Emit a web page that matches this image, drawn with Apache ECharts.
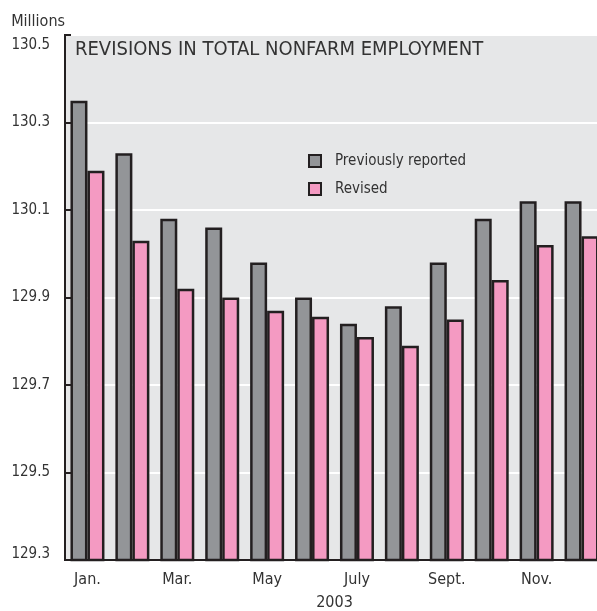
<!DOCTYPE html>
<html>
<head>
<meta charset="utf-8">
<script src="https://cdn.jsdelivr.net/npm/echarts@6/dist/echarts.min.js"></script>
<style>
  html, body { margin: 0; padding: 0; background: #fff; }
  #main { width: 597px; height: 611px; }
</style>
</head>
<body>
<div id="main"></div>
<script>
var months = ['Jan.', 'Feb.', 'Mar.', 'Apr.', 'May', 'June', 'July', 'Aug.', 'Sept.', 'Oct.', 'Nov.', 'Dec.'];
var previouslyReported = [130.35, 130.23, 130.08, 130.06, 129.98, 129.90, 129.84, 129.88, 129.98, 130.08, 130.12, 130.12];
var revised = [130.19, 130.03, 129.92, 129.90, 129.87, 129.856, 129.81, 129.79, 129.85, 129.94, 130.02, 130.04];

var font = "'Liberation Sans Narrow', 'Arial Narrow', 'DejaVu Sans Condensed', sans-serif";
var ink = '#231f20';
var textColor = '#333333';

var chart = echarts.init(document.getElementById('main'));

var option = {
    animation: false,
    title: {
        text: 'REVISIONS IN TOTAL NONFARM EMPLOYMENT',
        left: 70,
        top: 35,
        textStyle: {
            fontFamily: font,
            fontSize: 20,
            fontWeight: 'normal',
            color: textColor
        }
    },
    legend: {
        orient: 'vertical',
        left: 303,
        top: 148,
        itemWidth: 12,
        itemHeight: 12,
        itemGap: 12,
        icon: 'rect',
        textStyle: {
            fontFamily: font,
            fontSize: 15,
            lineHeight: 16,
            color: textColor,
            padding: [0, 0, 0, 9]
        },
        data: ['Previously reported', 'Revised']
    },
    grid: {
        show: true,
        left: 65,
        top: 35,
        width: 539,
        height: 525,
        outerBoundsMode: 'none',
        containLabel: false,
        backgroundColor: '#e6e7e8',
        borderColor: ink,
        borderWidth: 2
    },
    xAxis: {
        type: 'category',
        data: months,
        name: '2003',
        nameLocation: 'middle',
        nameGap: 35,
        nameTextStyle: {
            fontFamily: font,
            fontSize: 16,
            color: textColor
        },
        axisLine: { lineStyle: { color: ink, width: 2 } },
        axisTick: { show: false },
        axisLabel: {
            interval: 1,
            margin: 12,
            fontFamily: font,
            fontSize: 16,
            color: textColor
        }
    },
    yAxis: {
        type: 'value',
        min: 129.3,
        max: 130.5,
        interval: 0.2,
        name: 'Millions',
        nameLocation: 'end',
        nameGap: 5,
        nameTextStyle: {
            fontFamily: font,
            fontSize: 16,
            color: textColor,
            align: 'right'
        },
        axisLine: { show: true, lineStyle: { color: ink, width: 2 } },
        axisTick: { show: true, inside: true, length: 6, lineStyle: { color: ink, width: 2 } },
        splitLine: { lineStyle: { color: '#ffffff', width: 2 } },
        axisLabel: {
            margin: 15,
            fontFamily: font,
            fontSize: 15,
            color: textColor,
            formatter: function (v) {
                var s = v.toFixed(1);
                if (Math.abs(v - 130.5) < 1e-6) return '{top|' + s + '}';
                if (Math.abs(v - 129.3) < 1e-6) return '{bot|' + s + '}';
                return s;
            },
            rich: {
                top: { fontFamily: font, fontSize: 15, color: textColor, padding: [20, 0, 0, 0] },
                bot: { fontFamily: font, fontSize: 15, color: textColor, padding: [0, 0, 12, 0] }
            }
        }
    },
    series: [
        {
            name: 'Previously reported',
            type: 'bar',
            data: previouslyReported,
            barWidth: 17,
            barGap: '0%',
            itemStyle: { color: '#939598', borderColor: ink, borderWidth: 2.5 }
        },
        {
            name: 'Revised',
            type: 'bar',
            data: revised,
            barWidth: 17,
            itemStyle: { color: '#f49ac2', borderColor: ink, borderWidth: 2.5 }
        }
    ]
};

chart.setOption(option);
</script>
</body>
</html>
